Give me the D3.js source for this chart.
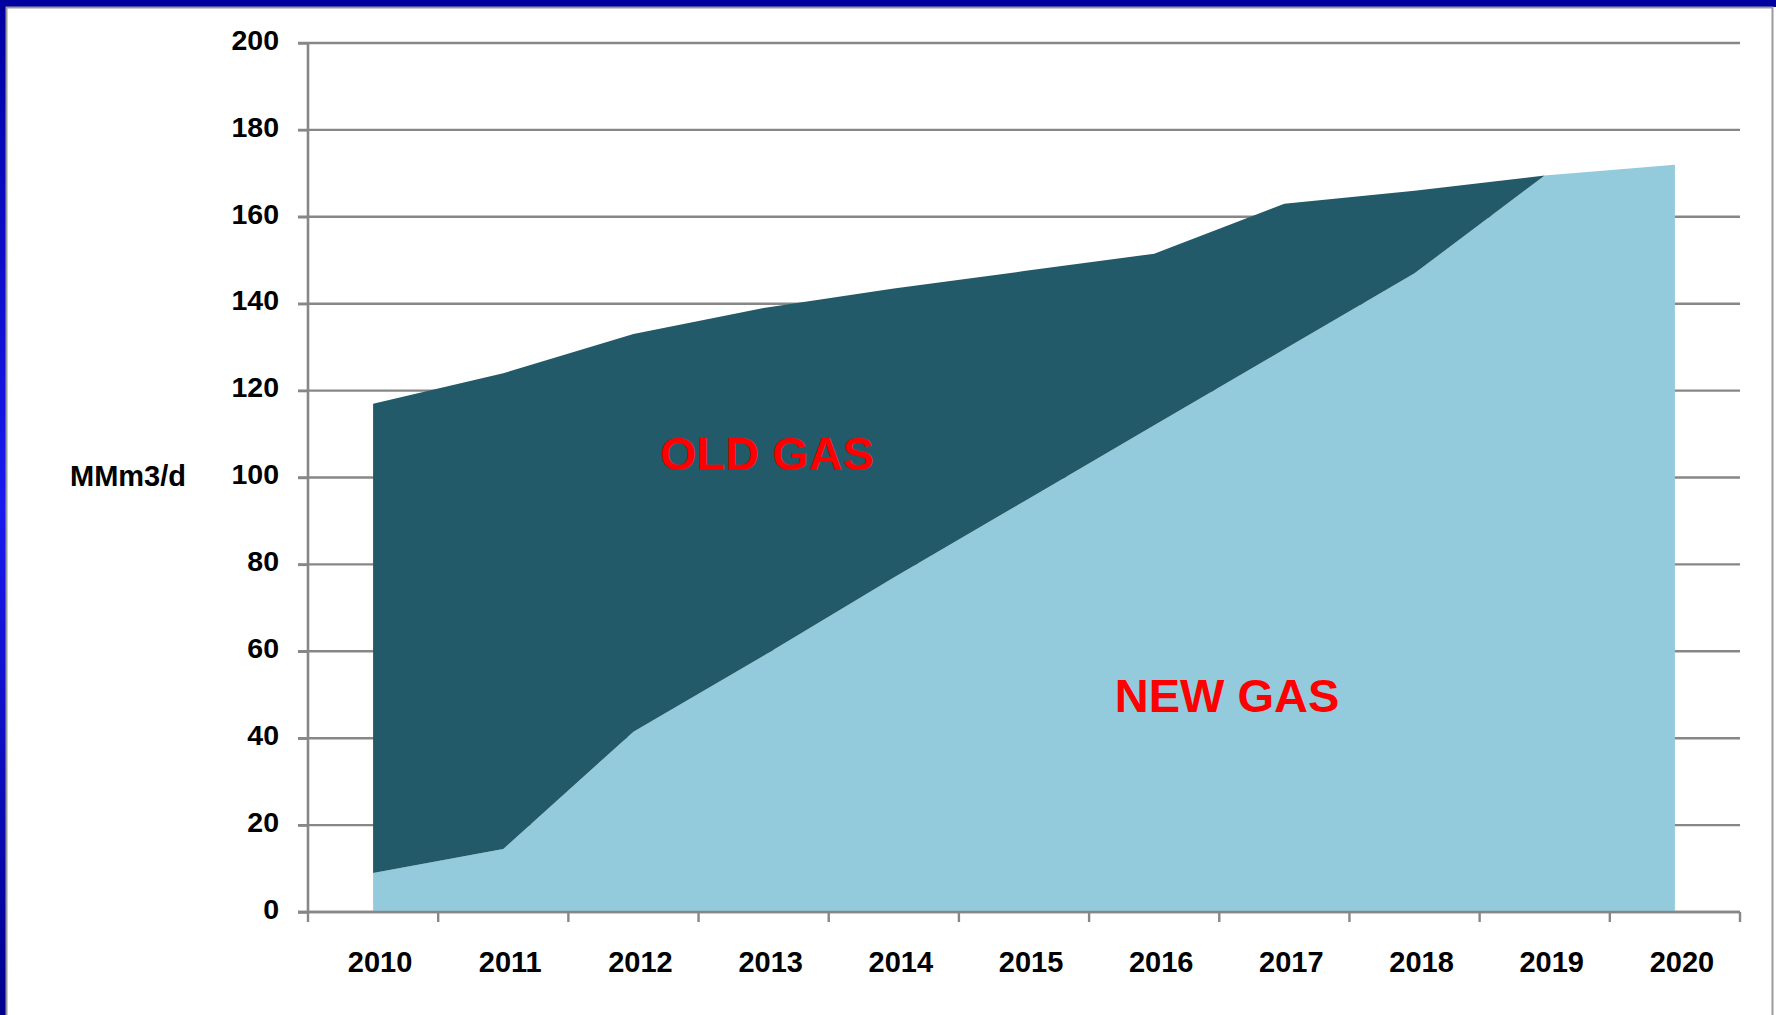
<!DOCTYPE html>
<html>
<head>
<meta charset="utf-8">
<script src="https://cdn.jsdelivr.net/npm/d3@7"></script>
<style>
  html, body { margin: 0; padding: 0; background: #fff; }
  svg { display: block; font-family: "Liberation Sans", Arial, sans-serif; }
  .tick text { font-weight: bold; fill: #000; }
</style>
</head>
<body>
<svg id="chart"></svg>
<script>
// data (MMm3/d)
var years = ["2010", "2011", "2012", "2013", "2014", "2015", "2016", "2017", "2018", "2019", "2020"];
var newGas = [9, 14.5, 41.5, 59, 77, 94.5, 112, 129.5, 147, 169.5, 172];
var oldGas = [108, 109.5, 91.5, 80, 66.5, 53, 39.5, 33.5, 19, 0, 0];
var yTicks = [0, 20, 40, 60, 80, 100, 120, 140, 160, 180, 200];

var screen = { width: 1776, height: 1015 };
var margins = { top: 43, bottom: 103, left: 308, right: 36 };
var graph = {
  width: screen.width - margins.left - margins.right,
  height: screen.height - margins.top - margins.bottom
};

var svg = d3.select("#chart").attr("width", screen.width).attr("height", screen.height);

// frame
var grad = svg.append("defs").append("linearGradient")
  .attr("id", "blueSide").attr("x1", 0).attr("y1", 0).attr("x2", 0).attr("y2", 1);
grad.append("stop").attr("offset", "0%").attr("stop-color", "#0000a0");
grad.append("stop").attr("offset", "50%").attr("stop-color", "#1a1af0");
grad.append("stop").attr("offset", "100%").attr("stop-color", "#00008c");

svg.append("rect").attr("x", 0).attr("y", 0).attr("width", screen.width).attr("height", 7).attr("fill", "#0000a0");
svg.append("rect").attr("x", 0).attr("y", 0).attr("width", 6).attr("height", screen.height).attr("fill", "url(#blueSide)");
svg.append("rect").attr("x", 6.5).attr("y", 7.5).attr("width", 1766).attr("height", 1020)
  .attr("fill", "#fff").attr("stroke", "#9a9a9a").attr("stroke-width", 2);

var g = svg.append("g").attr("transform", "translate(" + margins.left + "," + margins.top + ")");

// scales
var x = d3.scaleBand().domain(years).range([0, graph.width]).padding(0);
var y = d3.scaleLinear().domain([0, 200]).range([graph.height, 0]);

// gridlines
g.append("g").selectAll("line").data(yTicks).enter().append("line")
  .attr("x1", -10).attr("x2", graph.width)
  .attr("y1", function (d) { return y(d); })
  .attr("y2", function (d) { return y(d); })
  .attr("stroke", "#878787").attr("stroke-width", 2.4);

// stacked areas
var table = years.map(function (yr, i) {
  return { year: yr, newGas: newGas[i], oldGas: oldGas[i] };
});
var series = d3.stack().keys(["newGas", "oldGas"])(table);
var colors = { newGas: "#93cbdc", oldGas: "#225a69" };

var area = d3.area()
  .x(function (d) { return x(d.data.year) + x.bandwidth() / 2; })
  .y0(function (d) { return y(d[0]); })
  .y1(function (d) { return y(d[1]); });

g.append("g").selectAll("path").data(series).enter().append("path")
  .attr("d", area)
  .attr("fill", function (s) { return colors[s.key]; });

// y axis
var yAxis = d3.axisLeft(y).tickValues(yTicks).tickSize(10).tickPadding(19);
var yG = g.append("g").call(yAxis);
yG.select(".domain").remove();
yG.selectAll(".tick line").attr("stroke", "#878787").attr("stroke-width", 2.4);
yG.selectAll(".tick text").attr("font-size", 28.5).attr("dy", "0.22em");
g.append("line").attr("x1", 0).attr("x2", 0).attr("y1", 0).attr("y2", graph.height)
  .attr("stroke", "#878787").attr("stroke-width", 2.6);

// x axis
var xAxis = d3.axisBottom(x).tickSize(0).tickPadding(39);
var xG = g.append("g").attr("transform", "translate(0," + graph.height + ")").call(xAxis);
xG.select(".domain").remove();
xG.selectAll(".tick text").attr("font-size", 29).attr("dx", 7);
xG.selectAll("line.bound").data(d3.range(years.length + 1)).enter().append("line")
  .classed("bound", true)
  .attr("x1", function (k) { return k * x.step(); })
  .attr("x2", function (k) { return k * x.step(); })
  .attr("y1", 0).attr("y2", 10)
  .attr("stroke", "#878787").attr("stroke-width", 2.4);
xG.append("line").attr("x1", -10).attr("x2", graph.width).attr("y1", 0).attr("y2", 0)
  .attr("stroke", "#878787").attr("stroke-width", 2.6);

// labels
svg.append("text").text("MMm3/d")
  .attr("x", 70).attr("y", 486)
  .attr("font-size", 29).attr("font-weight", "bold").attr("fill", "#000");

svg.append("text").text("OLD GAS")
  .attr("x", 767).attr("y", 470).attr("text-anchor", "middle")
  .attr("font-size", 47).attr("font-weight", "bold").attr("fill", "#ff0000");

svg.append("text").text("NEW GAS")
  .attr("x", 1227).attr("y", 712).attr("text-anchor", "middle")
  .attr("font-size", 47).attr("font-weight", "bold").attr("fill", "#ff0000");
</script>
</body>
</html>
